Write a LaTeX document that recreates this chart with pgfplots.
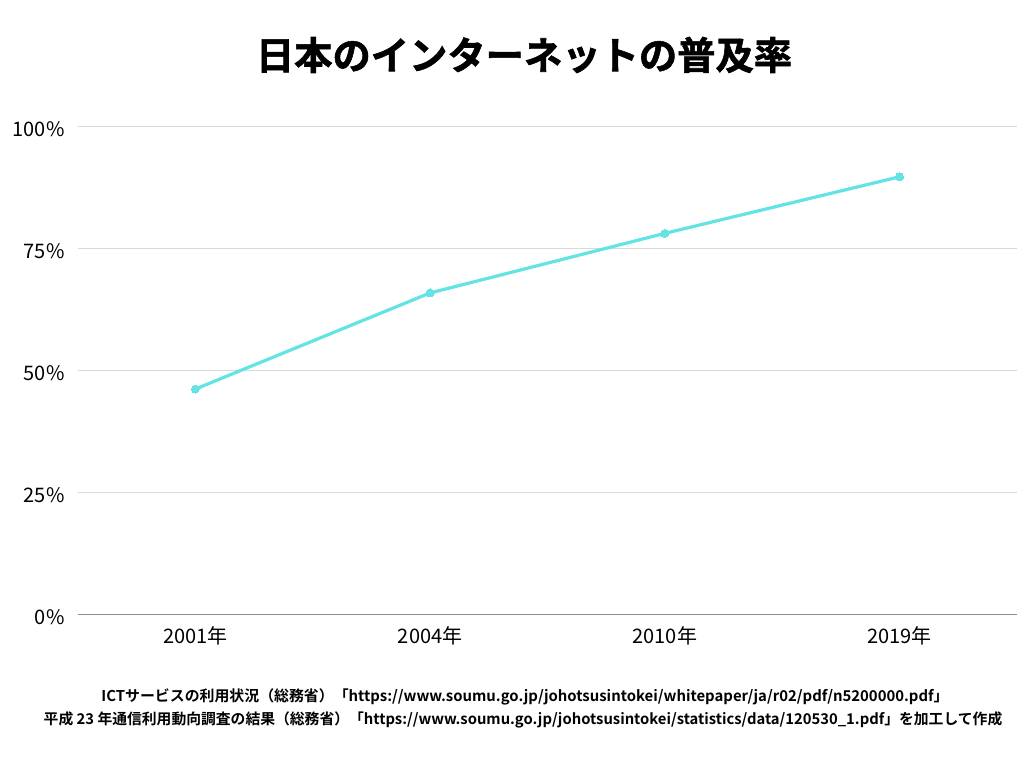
\documentclass[border=0pt]{standalone}
\usepackage{pgfplots}
\pgfplotsset{compat=1.18}
\usepackage{fontspec}
\setmainfont{Noto Sans CJK JP}[BoldFont={Noto Sans CJK JP Bold}]
\newfontfamily\titlefont{Noto Sans CJK JP Bold}[FakeBold=1.5]
\definecolor{linec}{HTML}{63E3E3}
\definecolor{gridc}{HTML}{D9D9D9}
\definecolor{axc}{HTML}{8C8C8C}
\begin{document}
\begin{tikzpicture}[x=1pt,y=1pt]
\path[use as bounding box] (0,0) rectangle (1024,768);
\begin{axis}[
  at={(78pt,153pt)}, anchor=south west,
  scale only axis, width=939pt, height=488pt,
  xmin=-0.5, xmax=3.5, ymin=0, ymax=100,
  xtick={0,1,2,3},
  xticklabels={2001年,2004年,2010年,2019年},
  ytick={0,25,50,75,100},
  yticklabel={\pgfmathprintnumber{\tick}\%},
  /pgf/number format/assume math mode=true,
  ticklabel style={font=\fontsize{20}{22}\selectfont},
  yticklabel style={xshift=-10pt, yshift=-2pt},
  xticklabel style={yshift=-8pt},
  major tick length=0pt,
  ymajorgrids, grid style={gridc, line width=1pt},
  axis x line*=bottom,
  axis y line*=left,
  y axis line style={draw=none},
  x axis line style={axc, line width=1pt, -},
  clip=false,
]
\addplot[linec, line width=3.2pt, mark=*, mark size=4pt, mark options={fill=linec, draw=linec, line width=0pt, solid}] coordinates {(0,46.3) (1,66.0) (2,78.2) (3,89.8)};
\end{axis}
\node[font=\titlefont\fontsize{38.3}{42}\selectfont] at (524,713) {日本のインターネットの普及率};
\node[font=\bfseries\fontsize{14.9}{16}\selectfont] at (525,71) {ICTサービスの利用状況（総務省）「https://www.soumu.go.jp/johotsusintokei/whitepaper/ja/r02/pdf/n5200000.pdf」};
\node[font=\bfseries\fontsize{14.8}{16}\selectfont] at (523,48) {平成 23 年通信利用動向調査の結果（総務省）「https://www.soumu.go.jp/johotsusintokei/statistics/data/120530\_1.pdf」を加工して作成};
\end{tikzpicture}
\end{document}
